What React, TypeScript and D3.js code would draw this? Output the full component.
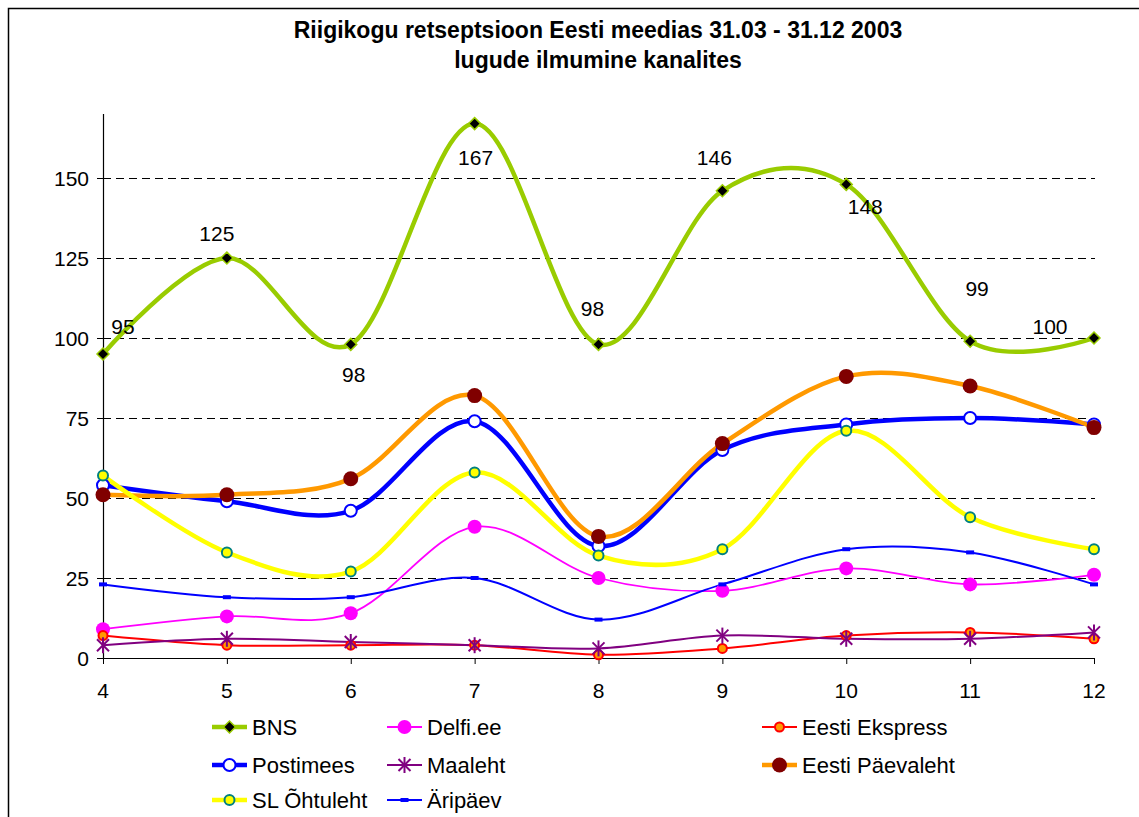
import React from 'react';
import * as d3 from 'd3';

// months (category axis)
const months = ['4', '5', '6', '7', '8', '9', '10', '11', '12'];

const bns = [95, 125, 98, 167, 98, 146, 148, 99, 100];
const delfi = [9, 13, 14, 41, 25, 21, 28, 23, 26];
const ekspress = [7, 4, 4, 4, 1, 3, 7, 8, 6];
const postimees = [54, 49, 46, 74, 35, 65, 73, 75, 73];
const maaleht = [4, 6, 5, 4, 3, 7, 6, 6, 8];
const paevaleht = [51, 51, 56, 82, 38, 67, 88, 85, 72];
const ohtuleht = [57, 33, 27, 58, 32, 34, 71, 44, 34];
const aripaev = [23, 19, 19, 25, 12, 23, 34, 33, 23];

const yTicks = [0, 25, 50, 75, 100, 125, 150];

const titleLines = [
    'Riigikogu retseptsioon Eesti meedias 31.03 - 31.12 2003',
    'lugude ilmumine kanalites',
];

// hand placed BNS data labels (dx, dy from the point)
const bnsLabelOffsets = [
    [20, -20], [-10, -17], [3, 38], [1, 41], [-6, -28],
    [-8, -26], [19, 30], [7, -45], [-44, -4],
];

const FONT = 'Liberation Sans, Arial, sans-serif';

type Marker = 'diamond' | 'circleOpen' | 'dot' | 'ring' | 'star' | 'bigDot' | 'ringTeal' | 'dash';

const series = [
    { name: 'BNS', values: bns, color: '#99CC00', width: 4.5, marker: 'diamond' as Marker },
    { name: 'Delfi.ee', values: delfi, color: '#FF00FF', width: 1.8, marker: 'dot' as Marker },
    { name: 'Eesti Ekspress', values: ekspress, color: '#FF0000', width: 2, marker: 'ring' as Marker },
    { name: 'Postimees', values: postimees, color: '#0000FF', width: 4.5, marker: 'circleOpen' as Marker },
    { name: 'Maaleht', values: maaleht, color: '#800080', width: 2, marker: 'star' as Marker },
    { name: 'Eesti Päevaleht', values: paevaleht, color: '#FF9900', width: 4.5, marker: 'bigDot' as Marker },
    { name: 'SL Õhtuleht', values: ohtuleht, color: '#FFFF00', width: 4.5, marker: 'ringTeal' as Marker },
    { name: 'Äripäev', values: aripaev, color: '#0000FF', width: 2, marker: 'dash' as Marker },
];

const drawMarker = (m: Marker, x: number, y: number, key: string) => {
    switch (m) {
        case 'diamond':
            return (
                <path key={key} d={`M${x},${y - 6}L${x + 6},${y}L${x},${y + 6}L${x - 6},${y}Z`}
                    fill="#000" stroke="#99CC00" strokeWidth={1.5} />
            );
        case 'circleOpen':
            return <circle key={key} cx={x} cy={y} r={6} fill="#fff" stroke="#0000FF" strokeWidth={2} />;
        case 'dot':
            return <circle key={key} cx={x} cy={y} r={7} fill="#FF00FF" />;
        case 'ring':
            return <circle key={key} cx={x} cy={y} r={4.5} fill="#FF9900" stroke="#FF0000" strokeWidth={2} />;
        case 'star':
            return (
                <g key={key} stroke="#800080" strokeWidth={2}>
                    <line x1={x - 6} y1={y - 6} x2={x + 6} y2={y + 6} />
                    <line x1={x - 6} y1={y + 6} x2={x + 6} y2={y - 6} />
                    <line x1={x} y1={y - 8} x2={x} y2={y + 8} />
                </g>
            );
        case 'bigDot':
            return <circle key={key} cx={x} cy={y} r={7.5} fill="#800000" />;
        case 'ringTeal':
            return <circle key={key} cx={x} cy={y} r={5} fill="#FFFF00" stroke="#008080" strokeWidth={2} />;
        case 'dash':
            return <rect key={key} x={x - 4} y={y - 2} width={8} height={4} fill="#0000FF" />;
    }
};

const App = () => {
    const width = 1139;
    const height = 817;

    const x = d3.scalePoint<string>().domain(months).range([103, 1094]);
    const y = d3.scaleLinear().domain([0, 170]).range([658, 114]);

    const line = d3
        .line<number>()
        .x((_, i) => x(months[i]) as number)
        .y((d) => y(d))
        .curve(d3.curveCardinal.tension(0));

    const legendCols = [212, 387, 762];
    const legendRows = [727, 765, 800];

    return (
        <svg width={width} height={height}
            style={{ position: 'absolute', left: 0, top: 0, display: 'block', background: '#fff' }}
            fontFamily={FONT}>
            <rect x={8.5} y={8.5} width={1140} height={820} fill="#fff" stroke="#000" strokeWidth={1.5} />

            {titleLines.map((t, i) => (
                <text key={t} x={598} y={38 + i * 30} textAnchor="middle" fontSize={23} fontWeight="bold">{t}</text>
            ))}

            {/* gridlines */}
            {yTicks.filter((t) => t > 0).map((t) => (
                <line key={t} x1={103} x2={1095} y1={y(t) + 0.5} y2={y(t) + 0.5} stroke="#000" strokeWidth={1} strokeDasharray="8,5" />
            ))}

            {/* axes */}
            <line x1={103.5} x2={103.5} y1={114} y2={658} stroke="#000" strokeWidth={1.2} />
            <line x1={103} x2={1095} y1={658.5} y2={658.5} stroke="#000" strokeWidth={1.2} />
            {yTicks.map((t) => (
                <g key={t}>
                    <line x1={97} x2={103} y1={y(t) + 0.5} y2={y(t) + 0.5} stroke="#000" />
                    <text x={89} y={y(t) + 7.5} textAnchor="end" fontSize={21}>{t}</text>
                </g>
            ))}
            {months.map((m) => (
                <g key={m}>
                    <line x1={(x(m) as number) + 0.5} x2={(x(m) as number) + 0.5} y1={658} y2={664} stroke="#000" />
                    <text x={x(m)} y={698} textAnchor="middle" fontSize={21}>{m}</text>
                </g>
            ))}

            {/* lines */}
            {series.map((s) => (
                <path key={s.name} d={line(s.values) || ''} fill="none" stroke={s.color} strokeWidth={s.width} />
            ))}
            {/* markers */}
            {series.map((s) =>
                s.values.map((v, i) => drawMarker(s.marker, x(months[i]) as number, y(v), `${s.name}-${i}`))
            )}

            {/* BNS data labels */}
            {bns.map((v, i) => (
                <text key={i} x={(x(months[i]) as number) + bnsLabelOffsets[i][0]} y={y(v) + bnsLabelOffsets[i][1]}
                    textAnchor="middle" fontSize={21}>{v}</text>
            ))}

            {/* legend */}
            {series.map((s, i) => {
                const lx = legendCols[i % 3];
                const ly = legendRows[Math.floor(i / 3)];
                return (
                    <g key={s.name}>
                        <line x1={lx} x2={lx + 35} y1={ly} y2={ly} stroke={s.color} strokeWidth={s.width} />
                        {drawMarker(s.marker, lx + 17.5, ly, `lg-${i}`)}
                        <text x={lx + 40} y={ly + 8} fontSize={22}>{s.name}</text>
                    </g>
                );
            })}
        </svg>
    );
};

export default App;
